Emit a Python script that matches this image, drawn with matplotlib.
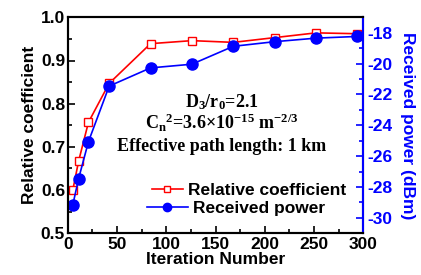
import matplotlib
matplotlib.use("Agg")
import matplotlib.pyplot as plt
from matplotlib.ticker import MultipleLocator, FormatStrFormatter
from matplotlib.lines import Line2D

iterations = [5, 11, 21, 42, 84, 126, 168, 210, 252, 294]
rel_coef = [0.599, 0.667, 0.757, 0.847, 0.939, 0.946, 0.942, 0.953, 0.964, 0.962]
rx_power = [-29.19, -27.46, -25.06, -21.46, -20.28, -20.04, -18.88, -18.58, -18.35, -18.24]

plt.rcParams['font.family'] = ['Liberation Sans', 'DejaVu Sans']
plt.rcParams['font.weight'] = 'bold'
plt.rcParams['axes.unicode_minus'] = False
plt.rcParams['mathtext.fontset'] = 'custom'
plt.rcParams['mathtext.rm'] = 'Liberation Serif:bold'
plt.rcParams['mathtext.it'] = 'Liberation Serif:bold'
plt.rcParams['mathtext.bf'] = 'Liberation Serif:bold'

fs = 12.5

fig = plt.figure(figsize=(4.21, 2.75), dpi=100)
ax = fig.add_axes([0.161, 0.152, 0.702, 0.785])
ax2 = ax.twinx()

ax.plot(iterations, rel_coef, color='red', lw=1.2, marker='s', ms=6,
        mfc='white', mec='red', mew=1)
ax2.plot(iterations, rx_power, color='blue', lw=1.2, marker='o', ms=8,
         mfc='blue', mec='blue')

ax.set_xlim(0, 300)
ax.set_ylim(0.5, 1.0)
ax2.set_ylim(-31, -17)
ax.xaxis.set_major_locator(MultipleLocator(50))
ax.xaxis.set_minor_locator(MultipleLocator(25))
ax.yaxis.set_major_locator(MultipleLocator(0.1))
ax.yaxis.set_minor_locator(MultipleLocator(0.05))
ax.yaxis.set_major_formatter(FormatStrFormatter('%.1f'))
ax2.yaxis.set_major_locator(MultipleLocator(2))
ax2.yaxis.set_minor_locator(MultipleLocator(1))

ax.tick_params(which='both', direction='in', labelsize=fs, width=1.2)
ax.tick_params(axis='y', pad=2)
ax.tick_params(axis='x', pad=3)
ax.tick_params(which='major', length=5)
ax.tick_params(which='minor', length=3)
ax2.tick_params(which='both', direction='in', labelsize=fs, width=1.2,
                colors='blue', pad=3)
ax2.tick_params(which='major', length=5)
ax2.tick_params(which='minor', length=3)
for lab in ax.get_xticklabels() + ax.get_yticklabels() + ax2.get_yticklabels():
    lab.set_fontweight('bold')
for s in ax.spines.values():
    s.set_linewidth(1.5)
for s in ax2.spines.values():
    s.set_linewidth(1.5)
ax2.spines['right'].set_color('blue')

ax.set_xlabel('Iteration Number', fontsize=fs, fontweight='bold', labelpad=0)
ax.set_ylabel('Relative coefficient', fontsize=fs, fontweight='bold', labelpad=3)
ax2.set_ylabel('Received power (dBm)', fontsize=fs, fontweight='bold',
               color='blue', rotation=270, labelpad=16)

serif = dict(family=['Liberation Serif', 'DejaVu Serif'], fontweight='bold',
             fontsize=13, ha='center', va='center', transform=fig.transFigure)
fig.text(0.527, 0.630, 'D$_3$/r$_0$=2.1', **serif)
fig.text(0.527, 0.552, 'C$_n$$^2$=3.6×10$^{-15}$ m$^{-2/3}$', **serif)
fig.text(0.527, 0.467, 'Effective path length: 1 km', **serif)

h1 = Line2D([], [], color='red', lw=1.2, marker='s', ms=4, mfc='white',
            mec='red', mew=1)
h2 = Line2D([], [], color='blue', lw=1.2, marker='o', ms=6, mfc='blue',
            mec='blue')
leg1 = fig.legend([h1], ['Relative coefficient'], loc='center left',
                  bbox_to_anchor=(152 / 421, 1 - 190.7 / 275), frameon=False,
                  fontsize=fs, handlelength=1.78, handletextpad=0.29,
                  borderpad=0, borderaxespad=0)
leg2 = fig.legend([h2], ['Received power'], loc='center left',
                  bbox_to_anchor=(147 / 421, 1 - 208 / 275), frameon=False,
                  fontsize=fs, handlelength=2.36, handletextpad=0.29,
                  borderpad=0, borderaxespad=0)
for leg in (leg1, leg2):
    for t in leg.get_texts():
        t.set_fontweight('bold')

fig.savefig('out.png', dpi=100)
